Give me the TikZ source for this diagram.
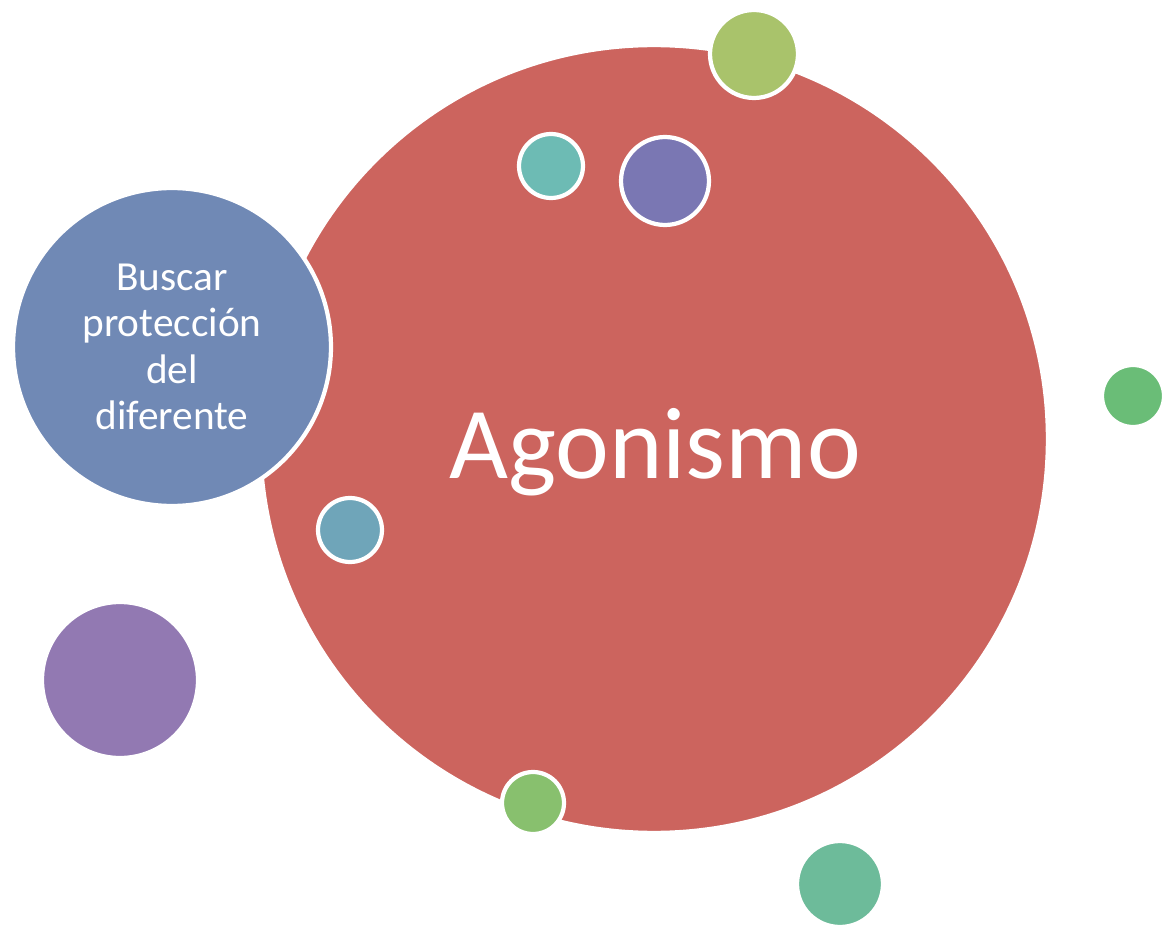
\documentclass[tikz,border=0pt]{standalone}
\usepackage{fontspec}
\setmainfont{Carlito}
\usetikzlibrary{positioning}

\definecolor{agored}{RGB}{204,100,94}
\definecolor{buscarblue}{RGB}{112,137,181}
\definecolor{limegreen}{RGB}{169,195,107}
\definecolor{tealc}{RGB}{109,187,180}
\definecolor{indigoc}{RGB}{122,119,179}
\definecolor{greenc}{RGB}{106,189,119}
\definecolor{steelc}{RGB}{111,165,185}
\definecolor{violetc}{RGB}{146,121,178}
\definecolor{leafc}{RGB}{136,192,110}
\definecolor{jadec}{RGB}{109,187,154}

\begin{document}
\begin{tikzpicture}[
    x=0.02cm,
    y=-0.02cm,
    bubble/.style={
        circle,
        draw=white,
        line width=2.4pt,
        inner sep=0pt,
        text=white,
        align=center
    },
    bigtext/.style={
        text=white,
        font=\fontsize{58}{66}\selectfont
    }
]
\useasboundingbox (0,0) rectangle (1164,926);

% Main circle
\node [bubble, fill=agored, minimum size=15.76cm] (agonismo) at (654,439) {};
\node [bigtext, anchor=base] (agolabel) at (655,478) {Agonismo};

% Side circle with text
\node [bubble, fill=buscarblue, minimum size=6.36cm,
       font=\fontsize{23.5}{26.5}\selectfont] (buscar) at (172,347)
      {Buscar\\protección\\del\\diferente};

% Small bubbles
\node [bubble, fill=limegreen, minimum size=1.76cm] (topgreen) at (754,54) {};
\node [bubble, fill=tealc, minimum size=1.28cm] (teal) at (551,166) {};
\node [bubble, fill=indigoc, minimum size=1.76cm] (indigo) at (665,181) {};
\node [bubble, fill=greenc, minimum size=1.24cm] (rightgreen) at (1133,396) {};
\node [bubble, fill=steelc, minimum size=1.28cm] (steel) at (350,530) {};
\node [bubble, fill=violetc, minimum size=3.12cm] (violet) at (120,680) {};
\node [bubble, fill=leafc, minimum size=1.24cm] (leaf) at (533,803) {};
\node [bubble, fill=jadec, minimum size=1.72cm] (jade) at (840,884) {};

\end{tikzpicture}
\end{document}
